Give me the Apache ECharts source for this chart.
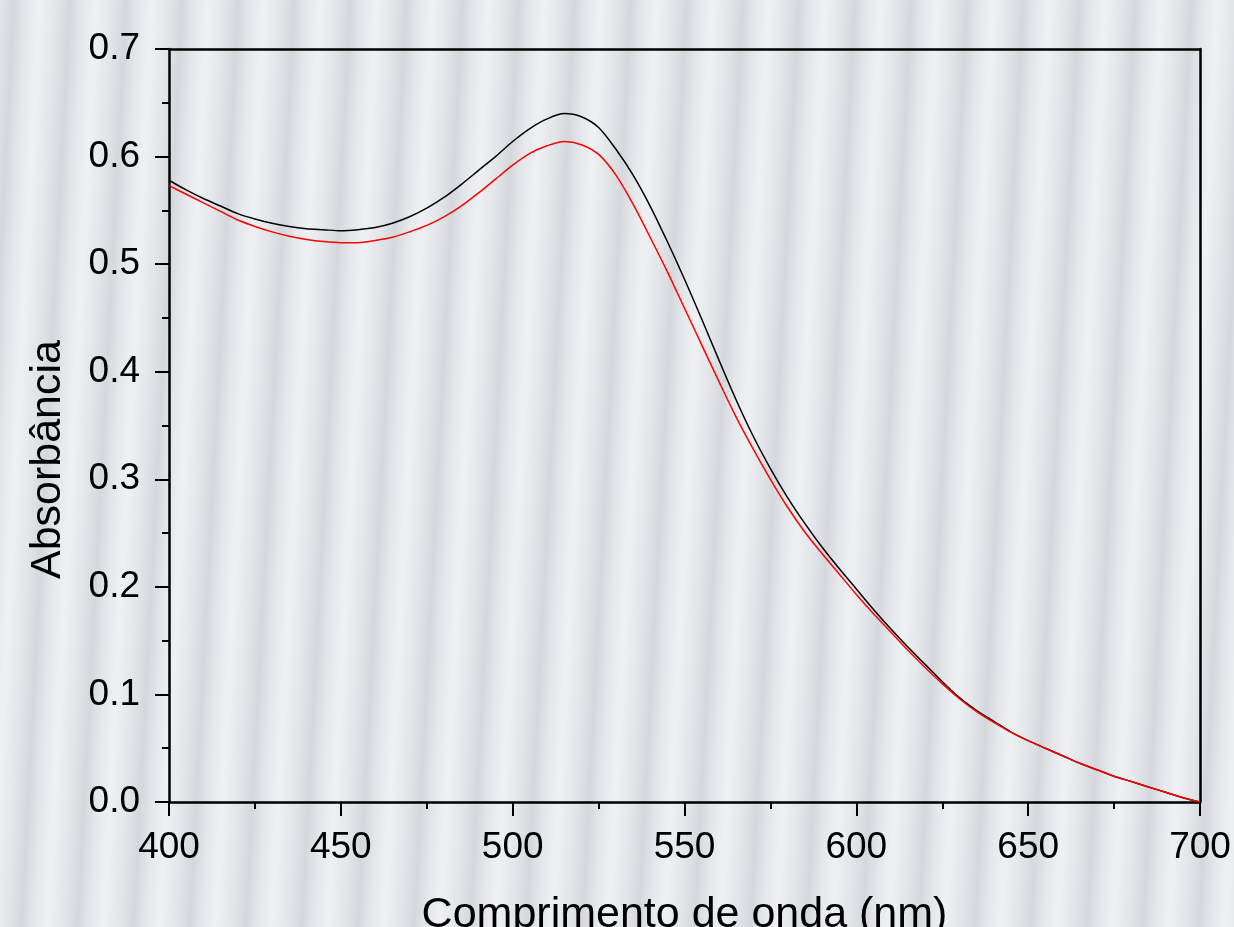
<!DOCTYPE html>
<html>
<head>
<meta charset="utf-8">
<script src="https://cdn.jsdelivr.net/npm/echarts@6/dist/echarts.min.js"></script>
<style>
  html, body {
    margin: 0;
    padding: 0;
    width: 1234px;
    height: 927px;
    overflow: hidden;
    background: repeating-linear-gradient(93deg,
      #e3e6e9 0px, #d4d8dc 14px, #e6e9ec 28px, #eef0f3 40px, #e3e6e9 56px);
  }
  #chart { width: 1234px; height: 927px; }
</style>
</head>
<body>
<div id="chart"></div>
<script>
// comprimento de onda (nm)
const wavelength = [400, 405, 410, 415, 420, 425, 430, 435, 440, 445,
  450, 455, 460, 465, 470, 475, 480, 485, 490, 495,
  500, 505, 510, 515, 520, 525, 530, 535, 540, 545,
  550, 555, 560, 565, 570, 575, 580, 585, 590, 595,
  600, 605, 610, 615, 620, 625, 630, 635, 640, 645,
  650, 655, 660, 665, 670, 675, 680, 685, 690, 695, 700]

// curva preta
const absBlack = [0.578, 0.569, 0.561, 0.554, 0.547, 0.542, 0.538, 0.535, 0.533, 0.532,
  0.531, 0.532, 0.534, 0.538, 0.544, 0.552, 0.562, 0.574, 0.587, 0.600,
  0.614, 0.626, 0.635, 0.640, 0.637, 0.627, 0.607, 0.583, 0.554, 0.521,
  0.486, 0.449, 0.411, 0.374, 0.340, 0.310, 0.283, 0.259, 0.237, 0.217,
  0.198, 0.179, 0.161, 0.144, 0.128, 0.112, 0.097, 0.085, 0.075, 0.065,
  0.057, 0.050, 0.043, 0.036, 0.030, 0.024, 0.019, 0.014, 0.009, 0.004, 0.000]

// curva vermelha
const absRed = [0.573, 0.565, 0.557, 0.549, 0.541, 0.535, 0.530, 0.526, 0.523, 0.521,
  0.520, 0.520, 0.522, 0.525, 0.530, 0.536, 0.544, 0.554, 0.566, 0.579,
  0.592, 0.603, 0.610, 0.614, 0.611, 0.602, 0.583, 0.556, 0.525, 0.493,
  0.459, 0.425, 0.391, 0.358, 0.328, 0.300, 0.274, 0.251, 0.231, 0.212,
  0.193, 0.175, 0.158, 0.141, 0.125, 0.110, 0.096, 0.084, 0.074, 0.065,
  0.057, 0.050, 0.043, 0.036, 0.030, 0.024, 0.019, 0.014, 0.009, 0.004, 0.000]

const xTitle = 'Comprimento de onda (nm)'
const yTitle = 'Absorbância'

const font = '"Liberation Sans", Arial, sans-serif'

const toPairs = (ys) => wavelength.map((x, i) => [x, ys[i]])

const chart = echarts.init(document.getElementById('chart'))
const option = {
  backgroundColor: 'transparent',
  animation: false,
  grid: {
    left: 169,
    right: 34,
    top: 49,
    bottom: 125,
    outerBoundsMode: 'none',
    containLabel: false
  },
  xAxis: [
    {
      type: 'value',
      min: 400,
      max: 700,
      interval: 50,
      name: xTitle,
      nameLocation: 'middle',
      nameGap: 92,
      nameTextStyle: { color: '#000', fontSize: 43, fontFamily: font },
      axisLine: { onZero: false, lineStyle: { color: '#000', width: 2.5 } },
      axisTick: { inside: false, length: 14, lineStyle: { color: '#000', width: 2 } },
      minorTick: { show: true, splitNumber: 2, length: 7, lineStyle: { color: '#000', width: 2 } },
      axisLabel: { color: '#000', fontSize: 37, fontFamily: font, margin: 27 },
      splitLine: { show: false }
    },
    {
      type: 'value',
      position: 'top',
      min: 400,
      max: 700,
      interval: 50,
      axisLine: { onZero: false, lineStyle: { color: '#000', width: 2.5 } },
      axisTick: { show: false },
      axisLabel: { show: false },
      splitLine: { show: false }
    }
  ],
  yAxis: [
    {
      type: 'value',
      min: 0,
      max: 0.7,
      interval: 0.1,
      axisLine: { show: true, onZero: false, lineStyle: { color: '#000', width: 2.5 } },
      axisTick: { show: true, length: 14, lineStyle: { color: '#000', width: 2 } },
      minorTick: { show: true, splitNumber: 2, length: 7, lineStyle: { color: '#000', width: 2 } },
      axisLabel: {
        color: '#000',
        fontSize: 37,
        fontFamily: font,
        margin: 29,
        formatter: (v) => v.toFixed(1)
      },
      splitLine: { show: false }
    },
    {
      type: 'value',
      position: 'right',
      min: 0,
      max: 0.7,
      interval: 0.1,
      axisLine: { show: true, onZero: false, lineStyle: { color: '#000', width: 2.5 } },
      axisTick: { show: false },
      axisLabel: { show: false },
      splitLine: { show: false }
    }
  ],
  graphic: [
    {
      type: 'text',
      left: 27,
      top: 340,
      rotation: Math.PI / 2,
      originX: 0,
      originY: 0,
      style: {
        text: yTitle,
        fill: '#000',
        font: '43px ' + font
      }
    }
  ],
  series: [
    {
      name: 'preta',
      type: 'line',
      data: toPairs(absBlack),
      smooth: 0.3,
      showSymbol: false,
      lineStyle: { color: '#000', width: 1.5 }
    },
    {
      name: 'vermelha',
      type: 'line',
      data: toPairs(absRed),
      smooth: 0.3,
      showSymbol: false,
      lineStyle: { color: '#ff0000', width: 1.5 }
    }
  ]
}
chart.setOption(option)
</script>
</body>
</html>
